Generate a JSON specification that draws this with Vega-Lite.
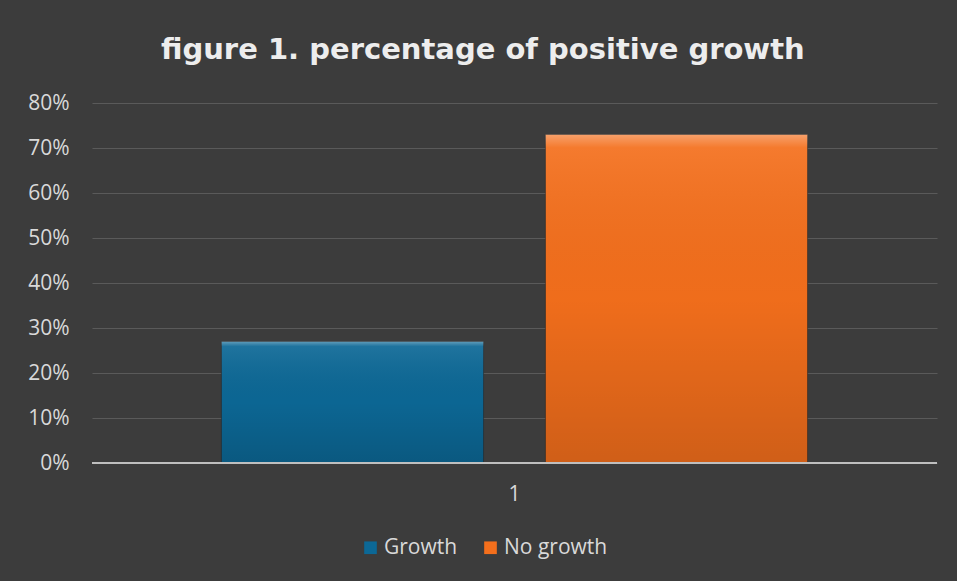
{
  "$schema": "https://vega.github.io/schema/vega-lite/v6.json",
  "width": 845,
  "height": 360,
  "autosize": {"type": "none"},
  "padding": {"left": 92, "top": 103, "right": 20, "bottom": 118},
  "background": "#3c3c3c",
  "title": {
    "text": "figure 1. percentage of positive growth",
    "anchor": "middle",
    "frame": "bounds",
    "font": "DejaVu Sans",
    "fontSize": 29,
    "fontWeight": "bold",
    "color": "#ededed",
    "baseline": "alphabetic",
    "offset": 4
  },
  "data": {
    "values": [
      {"cat": "1", "series": "Growth", "value": 0.27},
      {"cat": "1", "series": "No growth", "value": 0.73}
    ]
  },
  "config": {
    "view": {"stroke": null},
    "font": "Open Sans"
  },
  "encoding": {
    "x": {
      "field": "cat",
      "type": "nominal",
      "scale": {"paddingInner": 0, "paddingOuter": 0},
      "axis": {
        "title": null,
        "labelAngle": 0,
        "labelFontSize": 21,
        "labelColor": "#d9d9d9",
        "labelPadding": 20,
        "ticks": false,
        "domain": false
      }
    },
    "xOffset": {
      "field": "series",
      "type": "nominal",
      "scale": {"paddingInner": 0.191, "paddingOuter": 0.3995}
    },
    "y": {
      "field": "value",
      "type": "quantitative",
      "scale": {"domain": [0, 0.8], "nice": false},
      "axis": {
        "title": null,
        "format": ".0%",
        "values": [0, 0.1, 0.2, 0.3, 0.4, 0.5, 0.6, 0.7, 0.8],
        "labelFontSize": 21,
        "labelColor": "#d9d9d9",
        "labelPadding": 23,
        "ticks": false,
        "domain": false,
        "gridColor": "#5a5a5a",
        "gridWidth": 1.2
      }
    }
  },
  "layer": [
    {
      "mark": {"type": "bar", "stroke": "#2a2a2a", "strokeWidth": 1, "strokeOpacity": 0.6},
      "encoding": {
        "color": {
          "field": "series",
          "type": "nominal",
          "scale": {"domain": ["Growth", "No growth"], "range": ["#0c6896", "#f46f1c"]},
          "legend": {
            "title": null,
            "orient": "none",
            "legendX": 268,
            "legendY": 434,
            "direction": "horizontal",
            "symbolType": "square",
            "symbolSize": 160,
            "symbolStrokeWidth": 0,
            "labelFontSize": 21,
            "labelColor": "#d9d9d9",
            "labelOffset": 3,
            "columnPadding": 22
          }
        }
      }
    },
    {
      "mark": {
        "type": "bar",
        "fill": {
          "gradient": "linear",
          "x1": 0, "y1": 0, "x2": 0, "y2": 1,
          "stops": [
            {"offset": 0, "color": "rgba(255,255,255,0.35)"},
            {"offset": 0.04, "color": "rgba(255,255,255,0.08)"},
            {"offset": 0.5, "color": "rgba(0,0,0,0.02)"},
            {"offset": 1, "color": "rgba(0,0,0,0.15)"}
          ]
        }
      }
    },
    {
      "mark": {"type": "rule", "color": "#bfbfbf", "strokeWidth": 2},
      "encoding": {"y": {"datum": 0}, "x": null, "xOffset": null}
    }
  ]
}
